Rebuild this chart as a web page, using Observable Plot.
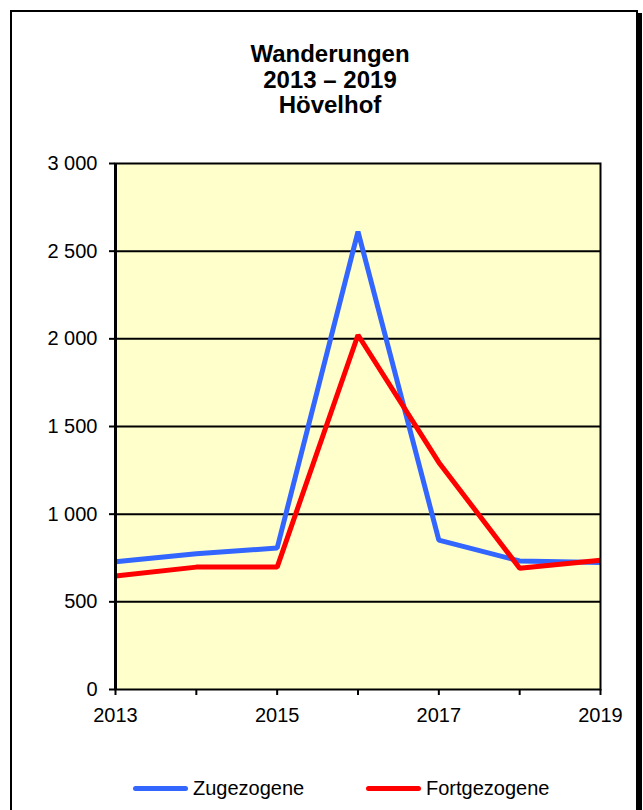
<!DOCTYPE html>
<html>
<head>
<meta charset="utf-8">
<script src="https://cdn.jsdelivr.net/npm/d3@7"></script>
<script src="https://cdn.jsdelivr.net/npm/@observablehq/plot@0.6"></script>
<style>
  html, body { margin: 0; padding: 0; background: #fff; }
  #wrap { position: relative; width: 643px; height: 810px; overflow: hidden; font-family: "Liberation Sans", Arial, sans-serif; color: #000; }
  #box { position: absolute; left: 10px; top: 10px; width: 624px; height: 820px; border: 2px solid #000; box-shadow: 4px 3px 0 #000; background: #fff; }
  #title { position: absolute; left: 10px; top: 41px; width: 640px; text-align: center; font-weight: bold; font-size: 24px; line-height: 25.5px; }
  #chart { position: absolute; left: 0; top: 0; }
  .leg { position: absolute; top: 778px; height: 20px; display: flex; align-items: center; font-size: 20px; line-height: 20px; }
  .sw { width: 55px; height: 5px; border-radius: 3px; margin-right: 5px; }
</style>
</head>
<body>
<div id="wrap">
  <div id="box"></div>
  <div id="chart"></div>
  <div id="title"></div>
  <div id="legend"></div>
</div>
<script>
const titleLines = ["Wanderungen", "2013 – 2019", "Hövelhof"];
const years = [2013, 2014, 2015, 2016, 2017, 2018, 2019];
const zugezogene = [729, 774, 807, 2612, 852, 733, 725];
const fortgezogene = [647, 698, 698, 2022, 1295, 692, 737];
const seriesNames = ["Zugezogene", "Fortgezogene"];
const seriesColors = ["#3366FF", "#FF0000"];
const yTicks = [0, 500, 1000, 1500, 2000, 2500, 3000];
const xLabelYears = [2013, 2015, 2017, 2019];

const data = [];
years.forEach((y, i) => {
  data.push({year: y, value: zugezogene[i], series: seriesNames[0]});
  data.push({year: y, value: fortgezogene[i], series: seriesNames[1]});
});

const fmt = d => d3.format(",")(d).replace(/,/g, " ");

const chart = Plot.plot({
  width: 643,
  height: 810,
  marginLeft: 115,
  marginRight: 43,
  marginTop: 163,
  marginBottom: 121,
  style: {fontFamily: "'Liberation Sans', Arial, sans-serif", fontSize: "20px", color: "#000", background: "transparent", overflow: "visible"},
  x: {domain: [2013, 2019]},
  y: {domain: [0, 3000]},
  color: {domain: seriesNames, range: seriesColors},
  marks: [
    Plot.frame({fill: "#FFFFCC", stroke: null}),
    Plot.ruleY(yTicks.slice(1, -1), {stroke: "#000", strokeWidth: 2}),
    Plot.line(data, {x: "year", y: "value", z: "series", stroke: "series", strokeWidth: 5, strokeLinejoin: "miter", strokeLinecap: "butt"}),
    Plot.frame({stroke: "#000", strokeWidth: 2}),
    Plot.ruleX([2013], {stroke: "#000", strokeWidth: 3}),
    Plot.axisX({ticks: years, tickFormat: d => xLabelYears.includes(d) ? String(d) : "", tickSize: 6, tickPadding: 12, strokeWidth: 2, fontSize: 20, label: null}),
    Plot.axisY({ticks: yTicks, tickFormat: fmt, tickSize: 6, tickPadding: 12, strokeWidth: 2, fontSize: 20, label: null})
  ]
});
document.getElementById("chart").appendChild(chart);

document.getElementById("title").innerHTML = titleLines.map(t => `<div>${t}</div>`).join("");

const legLeft = [133, 366];
document.getElementById("legend").innerHTML = seriesNames.map((n, i) =>
  `<div class="leg" style="left:${legLeft[i]}px"><div class="sw" style="background:${seriesColors[i]}"></div><span>${n}</span></div>`
).join("");
</script>
</body>
</html>
